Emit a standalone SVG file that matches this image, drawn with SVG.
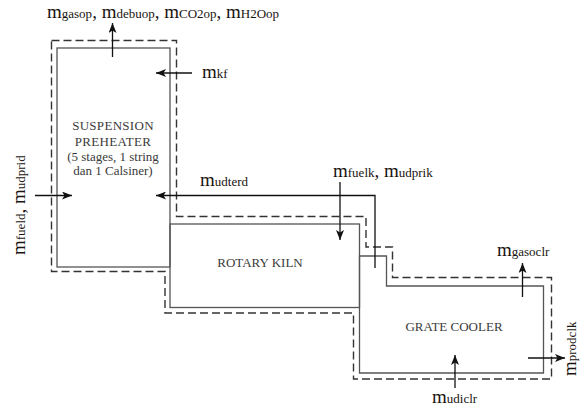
<svg xmlns="http://www.w3.org/2000/svg" width="587" height="407" viewBox="0 0 587 407">
<defs>
<marker id="ah" markerUnits="userSpaceOnUse" markerWidth="10" markerHeight="8" refX="10" refY="4" orient="auto">
<path d="M0,0 L10,4 L0,8 L2.5,4 Z" fill="#111"/>
</marker>
<style>
.box{fill:none;stroke:#555;stroke-width:1.3}
.bnd{fill:none;stroke:#333;stroke-width:1.4;stroke-dasharray:8 4}
.arr{fill:none;stroke:#111;stroke-width:1.3;marker-end:url(#ah)}
.ln{fill:none;stroke:#555;stroke-width:1.3}
.bt{font-family:"Liberation Serif","Times New Roman",serif;font-size:13px;fill:#3a3a3a;text-anchor:middle}
.lb{font-family:"Liberation Serif","Times New Roman",serif;font-size:19px;fill:#1a1410}
.s{font-size:13px}
</style>
</defs>
<rect width="587" height="407" fill="#fff"/>
<g id="boundary">
<path class="bnd" d="M51.5,40.5 H176.5 V216.5 H366 V247 H392.5 V277.5 H551.5 V379 H353.5 V313 H165 V271.5 H51.5 Z"/>
</g>
<g id="preheater">
<rect class="box" x="57" y="48" width="113" height="219"/>
<text class="bt" x="113" y="130" letter-spacing="0.3">SUSPENSION</text>
<text class="bt" x="113" y="145.5" letter-spacing="0.3">PREHEATER</text>
<text class="bt" x="113" y="161">(5 stages, 1 string</text>
<text class="bt" x="113" y="175">dan 1 Calsiner)</text>
</g>
<g id="kiln">
<rect class="box" x="170" y="224" width="189.5" height="83.5"/>
<text class="bt" x="260" y="267">ROTARY KILN</text>
</g>
<g id="cooler">
<path class="box" d="M359.5,256 H386.5 V286 H543.5 V373 H359.5 Z"/>
<text class="bt" x="454" y="331">GRATE COOLER</text>
</g>
<g id="connectors">
<path class="arr" d="M112.5,57 V23"/>
<path class="arr" d="M192,73 H156"/>
<path class="arr" d="M35,195.5 H72"/>
<path class="arr" d="M375,268 V195.5 H156"/>
<path class="arr" d="M340,182 V240"/>
<path class="arr" d="M522.5,297 V263"/>
<path class="arr" d="M455,388 V355"/>
<path class="arr" d="M528,358 H565"/>
</g>
<g id="labels">
<text class="lb" x="47" y="18">m<tspan class="s">gasop</tspan>, m<tspan class="s">debuop</tspan>, m<tspan class="s">CO2op</tspan>, m<tspan class="s">H2Oop</tspan></text>
<text class="lb" x="202" y="78">m<tspan class="s">kf</tspan></text>
<text class="lb" x="200" y="186">m<tspan class="s">udterd</tspan></text>
<text class="lb" x="333" y="177">m<tspan class="s">fuelk</tspan>, m<tspan class="s">udprik</tspan></text>
<text class="lb" x="497" y="256">m<tspan class="s">gasoclr</tspan></text>
<text class="lb" x="432" y="403">m<tspan class="s">udiclr</tspan></text>
<text class="lb" transform="translate(25,255) rotate(-90)">m<tspan class="s">fueld</tspan>, m<tspan class="s">udprid</tspan></text>
<text class="lb" transform="translate(576,376) rotate(-90)">m<tspan class="s">prodclk</tspan></text>
</g>
</svg>
